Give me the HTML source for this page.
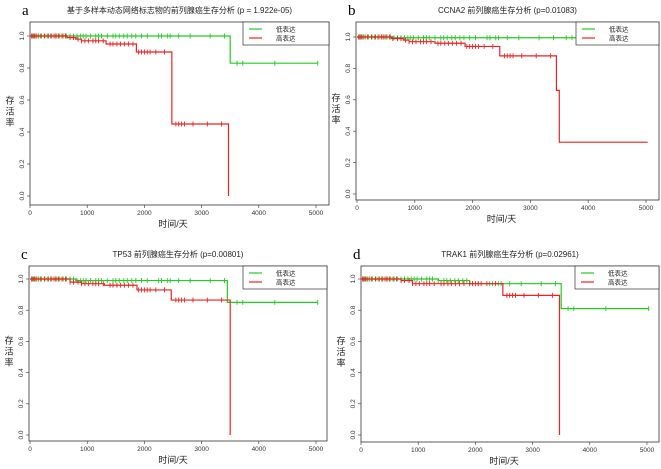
<!DOCTYPE html>
<html><head><meta charset="utf-8"><style>
body{margin:0;background:#fff;width:661px;height:469px;overflow:hidden;font-family:"Liberation Sans","Noto Sans CJK SC",sans-serif}
svg{position:absolute;left:0;top:0}
</style></head><body>
<svg id="s" width="661" height="469" xmlns="http://www.w3.org/2000/svg"></svg>
<script>
// ---- data (time in days, survival) ----
const panelLetters = ["a","b","c","d"];
const panelTitles = ["基于多样本动态网络标志物的前列腺癌生存分析 (p = 1.922e-05)","CCNA2 前列腺癌生存分析 (p=0.01083)","TP53 前列腺癌生存分析 (p=0.00801)","TRAK1 前列腺癌生存分析 (p=0.02961)"];
const xTicks = [0,1000,2000,3000,4000,5000];
const yTicks = [0,0.2,0.4,0.6,0.8,1.0];
const yTickLabels = ["0.0","0.2","0.4","0.6","0.8","1.0"];
const legendLabels = ["低表达","高表达"];
const greenA = [[0,1],[3500,0.83],[5030,0.83]];
const redA = [[0,1],[650,0.99],[800,0.98],[900,0.97],[1330,0.95],[1860,0.90],[2480,0.45],[3470,0]];
const greenB = [[0,1],[600,0.995],[5030,0.995]];
const redB = [[0,1],[600,0.99],[800,0.98],[900,0.97],[1350,0.96],[1870,0.94],[2470,0.88],[3450,0.66],[3500,0.33],[5030,0.33]];
const greenC = [[0,1],[800,0.99],[3450,0.85],[5030,0.85]];
const redC = [[0,1],[700,0.98],[900,0.97],[1300,0.96],[1870,0.93],[2470,0.865],[3500,0]];
const greenD = [[0,1],[1350,0.99],[1900,0.97],[3500,0.81],[5030,0.81]];
const redD = [[0,1],[700,0.99],[900,0.97],[2480,0.895],[3470,0]];
const censorGreen = [30,60,100,150,200,260,300,360,420,470,520,580,640,700,760,820,880,930,980,1060,1150,1200,1250,1350,1450,1500,1560,1640,1700,1780,1850,1950,2050,2250,2300,2400,2450,2600,2800,3150,3400,3620,3720,4280,5030];
const censorRed = [30,50,80,120,180,250,320,380,420,450,500,560,620,700,760,840,900,960,1020,1100,1150,1200,1280,1400,1450,1520,1580,1650,1720,1800,1900,1950,2000,2050,2100,2200,2350,2550,2600,2650,2700,2850,3100,3350];
const greens=[greenA,greenB,greenC,greenD], reds=[redA,redB,redC,redD];
// layout per panel
const L=[{bx:30,br:329,bt:22,bb:205,x0:30,x5:316,y1:36,y0:196,lx:243},
 {bx:356,br:659,bt:22,bb:200,x0:357,x5:646,y1:37,y0:194,lx:576},
 {bx:29,br:327,bt:266,bb:441,x0:30,x5:316,y1:279,y0:435,lx:243},
 {bx:361,br:659,bt:266,bb:442,x0:361,x5:647,y1:279,y0:435,lx:575}];
const NS="http://www.w3.org/2000/svg", S=document.getElementById('s');
function el(t,a,p){const e=document.createElementNS(NS,t);for(const k in a)e.setAttribute(k,a[k]);(p||S).appendChild(e);return e;}
function valAt(c,t){let v=c[0][1];for(const p of c){if(p[0]<=t)v=p[1];}return v;}
L.forEach((g,i)=>{
  const grp=el('g',{});
  
  
  const X=t=>g.x0+(g.x5-g.x0)*t/5000, Y=v=>g.y0+(g.y1-g.y0)*v;
  const box=el('rect',{x:g.bx,y:g.bt,width:g.br-g.bx,height:g.bb-g.bt,fill:'none',stroke:'#333','stroke-width':0.8},grp);
  
  const lt=el('text',{x:g.bx-8,y:g.bt-7,'font-family':'Liberation Serif,serif','font-size':15},grp);lt.textContent=panelLetters[i];
  
  const tt=el('text',{x:(g.bx+g.br)/2,y:g.bt-9,'font-size':8,'text-anchor':'middle',fill:'#222'},grp);tt.textContent=panelTitles[i];
  
  xTicks.forEach(t=>{el('line',{x1:X(t),x2:X(t),y1:g.bb,y2:g.bb+3,stroke:'#333','stroke-width':0.6},grp);
    const tx=el('text',{x:X(t),y:g.bb+10,'font-size':6.5,'text-anchor':'middle',fill:'#333'},grp);tx.textContent=t;
    });
  yTicks.forEach((v,j)=>{el('line',{x1:g.bx,x2:g.bx-3,y1:Y(v),y2:Y(v),stroke:'#333','stroke-width':0.6},grp);
    const ty=el('text',{x:0,y:0,'font-size':6.5,'text-anchor':'middle',fill:'#333',transform:`translate(${g.bx-6},${Y(v)}) rotate(-90)`},grp);ty.textContent=yTickLabels[j];
    });
  const xl=el('text',{x:(g.x0+g.x5)/2,y:g.bb+22,'font-size':9,'text-anchor':'middle',fill:'#222'},grp);xl.textContent='时间/天';
  
  const yl=el('text',{x:g.bx-26,y:(g.bt+g.bb)/2-10,'font-size':9,'text-anchor':'middle',fill:'#222'},grp);
  
  ['存','活','率'].forEach((c,k)=>{const ts=el('tspan',{x:g.bx-20,dy:k?11:0},yl);ts.textContent=c;});
  [[greens[i],'#22cc22',censorGreen,'low'],[reds[i],'#ee2222',censorRed,'high']].forEach(([c,col,cens,nm])=>{
    let d=`M${X(c[0][0])},${Y(c[0][1])}`;
    for(let k=1;k<c.length;k++){d+=`H${X(c[k][0])}V${Y(c[k][1])}`;}
    const p=el('path',{d,fill:'none',stroke:col,'stroke-width':1.2},grp);
    
    const end=c[c.length-1][0];
    cens.forEach(t=>{if(t>end)return;const v=valAt(c,t);if(v<=0)return;
      const m=el('line',{x1:X(t),x2:X(t),y1:Y(v)-2.5,y2:Y(v)+2.5,stroke:col,'stroke-width':0.9},grp);
      });
  });
  const lg=el('g',{},grp);
  el('rect',{x:g.lx,y:g.bt,width:g.br-g.lx,height:23,fill:'#fff',stroke:'#333','stroke-width':0.7},lg);
  legendLabels.forEach((s,k)=>{const yy=g.bt+7+k*9;
    el('line',{x1:g.lx+6,x2:g.lx+19,y1:yy,y2:yy,stroke:k?'#ee2222':'#22cc22','stroke-width':1.2},lg);
    const lt2=el('text',{x:g.lx+33,y:yy+2.5,'font-size':6.5,fill:'#222'},lg);lt2.textContent=s;
    });
});
</script>
</body></html>
